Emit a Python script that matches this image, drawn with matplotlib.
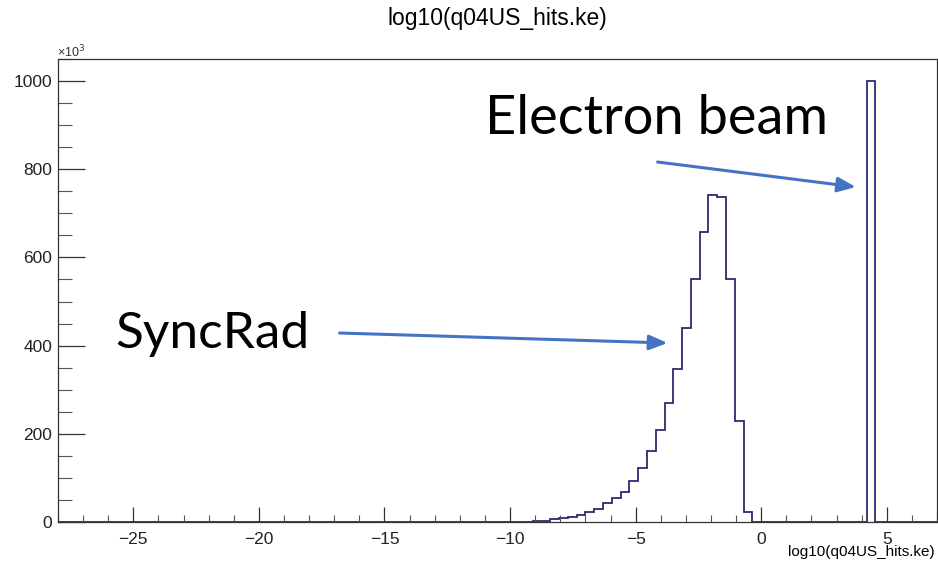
import numpy as np
import matplotlib
matplotlib.use("Agg")
import matplotlib.pyplot as plt

# Histogramm: 100 Bins von -28 bis 7 (Werte in Tausend)
x_min, x_max, n_bins = -28.0, 7.0, 100
syncrad_first_bin = 52  # Bin ab -9.8
syncrad_counts = [1, 1, 3, 3, 6, 10, 11, 16, 23, 29, 42, 54, 69, 92, 122, 160,
                  208, 271, 347, 440, 551, 658, 742, 738, 551, 230, 23]
beam_bin = 92  # Bin 4.2 .. 4.55
beam_count = 1000

edges = np.linspace(x_min, x_max, n_bins + 1)
counts = np.zeros(n_bins)
counts[syncrad_first_bin:syncrad_first_bin + len(syncrad_counts)] = syncrad_counts
counts[beam_bin] = beam_count

W, H = 938, 569
fig = plt.figure(figsize=(W / 100, H / 100), dpi=100)
ax = fig.add_axes([58 / W, 47 / H, 879 / W, 463 / H])

ax.stairs(counts, edges, baseline=0, color="#2b2b6e", linewidth=1.3)

ax.set_xlim(x_min, x_max)
ax.set_ylim(0, 1050)
ax.set_xticks([-25, -20, -15, -10, -5, 0, 5])
ax.set_xticks(np.arange(-28, 8, 1), minor=True)
ax.set_yticks([0, 200, 400, 600, 800, 1000])
ax.set_yticks(np.arange(0, 1051, 50), minor=True)
ax.set_xticklabels(["\u221225", "\u221220", "\u221215", "\u221210", "\u22125", "0", "5"])

font = "Liberation Sans"
ax.tick_params(axis="x", which="major", direction="in", length=10.8, width=0.9,
               labelsize=12.5, pad=7, color="#333333", labelcolor="#222222")
ax.tick_params(axis="x", which="minor", direction="in", length=5.4, width=0.8, color="#555555")
ax.tick_params(axis="y", which="major", direction="in", length=19.4, width=0.9,
               labelsize=12.5, pad=4, color="#333333", labelcolor="#222222")
ax.tick_params(axis="y", which="minor", direction="in", length=10, width=0.8, color="#555555")
for lab in ax.get_xticklabels() + ax.get_yticklabels():
    lab.set_fontfamily(font)
for sp in ax.spines.values():
    sp.set_linewidth(0.9)
    sp.set_color("#333333")

# Titel und Achsenbeschriftung (ROOT-Stil)
fig.text(497 / W, 1 - 19 / H, "log10(q04US_hits.ke)", ha="center", va="center",
         fontsize=16.5, family=font)
fig.text(935 / W, 1 - 552 / H, "log10(q04US_hits.ke)", ha="right", va="center",
         fontsize=11, family=font)
fig.text(57 / W, 1 - 57 / H, "\u00d710$^3$", ha="left", va="baseline",
         fontsize=9, family=font, color="#333333")

# Beschriftungen mit Pfeilen
px = 25.2       # Pixel pro x-Einheit
py = 463 / 1050 # Pixel pro y-Einheit
def to_data(x, y):
    return (x - 762) / px, (522 - y) / py

ax.text(*to_data(485, 134), "Electron beam", family="Lato", fontsize=39,
        ha="left", va="baseline")
ax.text(*to_data(114, 348), "SyncRad", family="Lato", fontsize=37,
        ha="left", va="baseline")

arrow_style = dict(arrowstyle="-|>,head_length=1.1,head_width=0.45",
                   color="#4472c4", linewidth=2.2, shrinkA=0, shrinkB=0)
ax.annotate("", xy=to_data(857, 187), xytext=to_data(658, 162), arrowprops=arrow_style)
ax.annotate("", xy=to_data(668, 343), xytext=to_data(339, 333), arrowprops=arrow_style)

fig.savefig("out.png", dpi=100)
